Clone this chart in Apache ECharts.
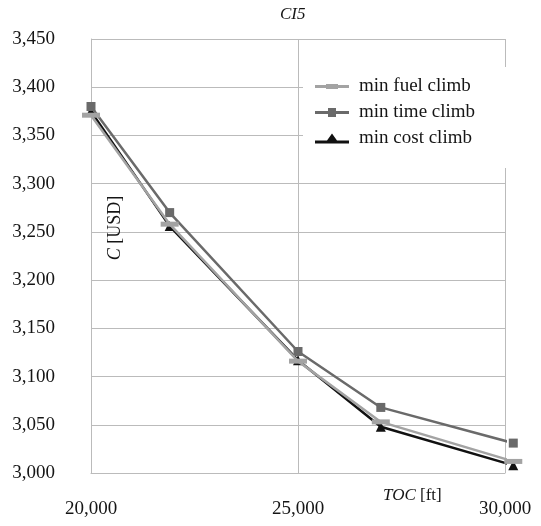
<!DOCTYPE html>
<html>
<head>
<meta charset="utf-8">
<script src="https://cdn.jsdelivr.net/npm/echarts@6/dist/echarts.min.js"></script>
<style>html,body{margin:0;padding:0;background:#fff;}#c{width:541px;height:526px;}</style>
</head>
<body>
<div id="c"></div>
<script>
const toc = [20000, 21900, 25000, 27000, 30200];
const minFuel = [3371, 3258, 3116, 3053, 3012];
const minTime = [3380, 3270, 3126, 3068, 3031];
const minCost = [3375, 3256, 3117, 3048, 3008];
const seriesNames = ['min fuel climb', 'min time climb', 'min cost climb'];
const titleText = 'CI5';

const FONT = 'Liberation Serif';
const TXT = '#151515';
const chart = echarts.init(document.getElementById('c'), null, {renderer: 'canvas'});
const pairs = arr => toc.map((x, i) => [x, arr[i]]);
const fmt = v => v.toLocaleString('en-US');

// legend icons (34 x 12 box)
const iconFuel = 'path://M0,4.5L11,4.5L11,3.5L23,3.5L23,4.5L34,4.5L34,7.5L23,7.5L23,8.5L11,8.5L11,7.5L0,7.5Z';
const iconTime = 'path://M0,4.6L13,4.6L13,1.5L21,1.5L21,4.6L34,4.6L34,7.4L21,7.4L21,10.5L13,10.5L13,7.4L0,7.4Z';
const iconCost = 'path://M0,7.6L12,7.6L17,0.5L22,7.6L34,7.6L34,10.4L22,10.4L22,10.5L12,10.5L12,10.4L0,10.4Z';

chart.setOption({
  animation: false,
  backgroundColor: '#fff',
  title: {
    text: titleText, left: 275, top: 1,
    textStyle: {fontFamily: FONT, fontStyle: 'italic', fontWeight: 'normal', fontSize: 17, color: TXT}
  },
  grid: {left: 91, right: 36, top: 39, bottom: 53},
  legend: {
    orient: 'vertical', left: 303, top: 67,
    backgroundColor: '#fff',
    padding: [10, 40, 20, 12],
    itemGap: 7, itemWidth: 34, itemHeight: 12,
    textStyle: {fontFamily: FONT, fontSize: 19, color: TXT, padding: [0, 0, 0, 5]},
    data: [
      {name: seriesNames[0], icon: iconFuel, itemStyle: {color: '#a3a3a3'}},
      {name: seriesNames[1], icon: iconTime, itemStyle: {color: '#6a6a6a'}},
      {name: seriesNames[2], icon: iconCost, itemStyle: {color: '#111'}}
    ]
  },
  xAxis: {
    type: 'value', min: 20000, max: 30000, interval: 5000,
    axisLine: {show: true, lineStyle: {color: '#bbb', width: 1}},
    axisTick: {show: false},
    splitLine: {show: true, lineStyle: {color: '#bbb', width: 1}},
    axisLabel: {margin: 27, fontFamily: FONT, fontSize: 19, color: TXT, formatter: fmt}
  },
  yAxis: {
    type: 'value', min: 3000, max: 3450, interval: 50,
    axisLine: {show: true, lineStyle: {color: '#bbb', width: 1}},
    axisTick: {show: false},
    splitLine: {show: true, lineStyle: {color: '#bbb', width: 1}},
    axisLabel: {margin: 36, fontFamily: FONT, fontSize: 19, color: TXT, formatter: fmt}
  },
  graphic: [
    {
      type: 'text', x: 106, y: 228, rotation: Math.PI / 2, z: 100,
      style: {
        text: '{i|C} [USD]', fill: TXT, align: 'center', verticalAlign: 'top',
        font: '18px "Liberation Serif"',
        rich: {i: {fontStyle: 'italic', fontFamily: FONT, fontSize: 18, fill: TXT}}
      }
    },
    {
      type: 'text', x: 383, y: 487, z: 100,
      style: {
        text: '{i|TOC} [ft]', fill: TXT,
        font: '17px "Liberation Serif"',
        rich: {i: {fontStyle: 'italic', fontFamily: FONT, fontSize: 17, fill: TXT}}
      }
    }
  ],
  series: [
    {
      name: seriesNames[0], type: 'line', data: pairs(minFuel), clip: false, z: 4,
      symbol: 'rect', symbolSize: [18, 5],
      lineStyle: {color: '#a3a3a3', width: 2.5},
      itemStyle: {color: '#a3a3a3'}
    },
    {
      name: seriesNames[1], type: 'line', data: pairs(minTime), clip: false, z: 3,
      symbol: 'rect', symbolSize: 9,
      lineStyle: {color: '#6a6a6a', width: 2.5},
      itemStyle: {color: '#6a6a6a'}
    },
    {
      name: seriesNames[2], type: 'line', data: pairs(minCost), clip: false, z: 2,
      symbol: 'triangle', symbolSize: 10,
      lineStyle: {color: '#111', width: 2.5},
      itemStyle: {color: '#111'}
    }
  ]
});
</script>
</body>
</html>
